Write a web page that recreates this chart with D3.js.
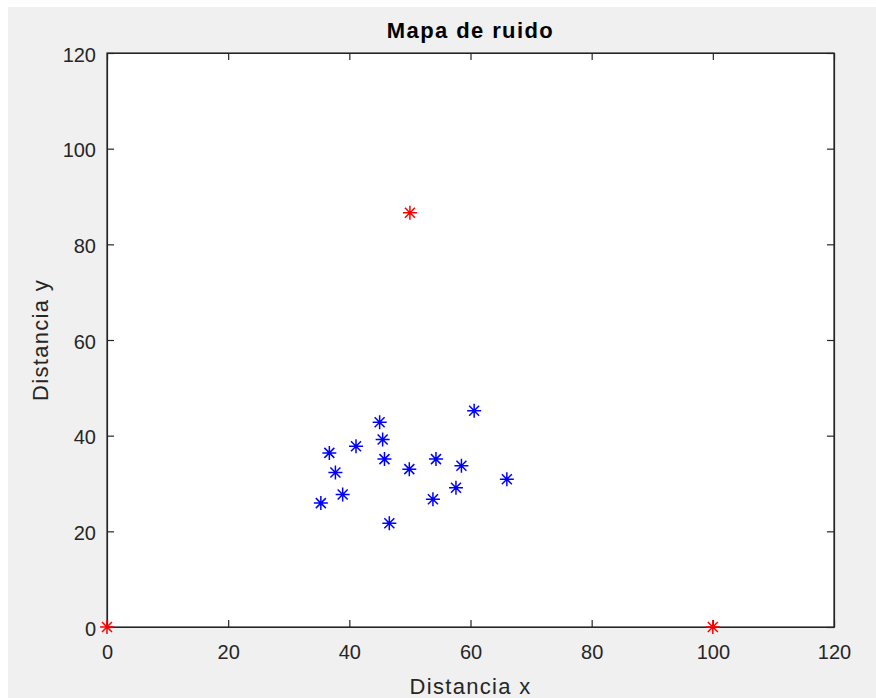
<!DOCTYPE html>
<html>
<head>
<meta charset="utf-8">
<script src="https://cdn.jsdelivr.net/npm/d3@7"></script>
<style>
  html, body { margin: 0; padding: 0; background: #ffffff; }
  svg { display: block; }
</style>
</head>
<body>
<div id="chart"></div>
<script>
// ---- data ----
const blueX = [60.6, 45.0, 45.5, 41.1, 36.7, 45.8, 54.3, 58.5, 49.9, 37.7, 66.0, 57.6, 38.9, 53.8, 35.3, 46.6];
const blueY = [45.2, 42.8, 39.2, 37.8, 36.4, 35.1, 35.1, 33.7, 33.0, 32.3, 30.9, 29.1, 27.7, 26.7, 25.9, 21.7];
const redX = [0, 100, 50];
const redY = [0, 0, 86.6];
const xTicks = [0, 20, 40, 60, 80, 100, 120];
const yTicks = [0, 20, 40, 60, 80, 100, 120];
const titleText = "Mapa de ruido";
const xLabelText = "Distancia x";
const yLabelText = "Distancia y";

// ---- layout ----
const W = 876, H = 698;
const L = 107, R = 834, T = 53, B = 627;
const tickLen = 7;
const font = "'Liberation Sans', Arial, Helvetica, sans-serif";
const axisColor = "#262626";

const svg = d3.select("#chart").append("svg")
  .attr("width", W).attr("height", H);

svg.append("rect").attr("x", 8).attr("y", 7).attr("width", W - 8).attr("height", H - 7)
  .attr("fill", "#f0f0f0");

const x = d3.scaleLinear().domain([0, 120]).range([L, R]);
const y = d3.scaleLinear().domain([0, 120]).range([B, T]);

svg.append("rect").attr("x", L).attr("y", T).attr("width", R - L).attr("height", B - T)
  .attr("fill", "#ffffff");

function styleAxis(g) {
  g.selectAll("path").attr("stroke", axisColor).attr("stroke-width", 1.2);
  g.selectAll("line").attr("stroke", axisColor).attr("stroke-width", 1.2);
  g.selectAll("text").attr("fill", axisColor).style("font-family", font).style("font-size", "20px");
}

const xAxis = svg.append("g").attr("transform", `translate(0,${B})`)
  .call(d3.axisBottom(x).tickValues(xTicks).tickSize(-tickLen).tickSizeOuter(0).tickPadding(18).tickFormat(d3.format("d")));
styleAxis(xAxis);
const xAxisTop = svg.append("g").attr("transform", `translate(0,${T})`)
  .call(d3.axisTop(x).tickValues(xTicks).tickSize(-tickLen).tickSizeOuter(0).tickFormat(""));
styleAxis(xAxisTop);
const yAxis = svg.append("g").attr("transform", `translate(${L},0)`)
  .call(d3.axisLeft(y).tickValues(yTicks).tickSize(-tickLen).tickSizeOuter(0).tickPadding(11).tickFormat(d3.format("d")));
styleAxis(yAxis);
yAxis.selectAll("text").attr("dy", "0.4em");
const yAxisRight = svg.append("g").attr("transform", `translate(${R},0)`)
  .call(d3.axisRight(y).tickValues(yTicks).tickSize(-tickLen).tickSizeOuter(0).tickFormat(""));
styleAxis(yAxisRight);

// box
svg.append("rect").attr("x", L).attr("y", T).attr("width", R - L).attr("height", B - T)
  .attr("fill", "none").attr("stroke", axisColor).attr("stroke-width", 1.2);

// asterisk markers
function asterisk(sel, color, sw) {
  const a = 7, d = 5;
  const path = `M${-a},0L${a},0M0,${-a}L0,${a}M${-d},${-d}L${d},${d}M${-d},${d}L${d},${-d}`;
  sel.append("path").attr("d", path).attr("stroke", color).attr("stroke-width", sw).attr("fill", "none");
}

const blueData = blueX.map((v, i) => ({ x: v, y: blueY[i] }));
const redData = redX.map((v, i) => ({ x: v, y: redY[i] }));

svg.append("g").selectAll("g").data(blueData).join("g")
  .attr("transform", d => `translate(${x(d.x)},${y(d.y)})`)
  .each(function () { asterisk(d3.select(this), "#0000ff", 1.5); });

svg.append("g").selectAll("g").data(redData).join("g")
  .attr("transform", d => `translate(${x(d.x)},${y(d.y)})`)
  .each(function () { asterisk(d3.select(this), "#ff0000", 1.5); });

// title & labels
svg.append("text").attr("x", (L + R) / 2).attr("y", 38)
  .attr("text-anchor", "middle").attr("fill", "#000")
  .style("font-family", font).style("font-size", "22px").style("font-weight", "bold")
  .style("letter-spacing", "1.4px")
  .text(titleText);

svg.append("text").attr("x", (L + R) / 2).attr("y", 694)
  .attr("text-anchor", "middle").attr("fill", axisColor)
  .style("font-family", font).style("font-size", "22px")
  .style("letter-spacing", "1.3px")
  .text(xLabelText);

svg.append("text").attr("transform", `translate(48,${(T + B) / 2}) rotate(-90)`)
  .attr("text-anchor", "middle").attr("fill", axisColor)
  .style("font-family", font).style("font-size", "22px")
  .style("letter-spacing", "1.3px")
  .text(yLabelText);
</script>
</body>
</html>
